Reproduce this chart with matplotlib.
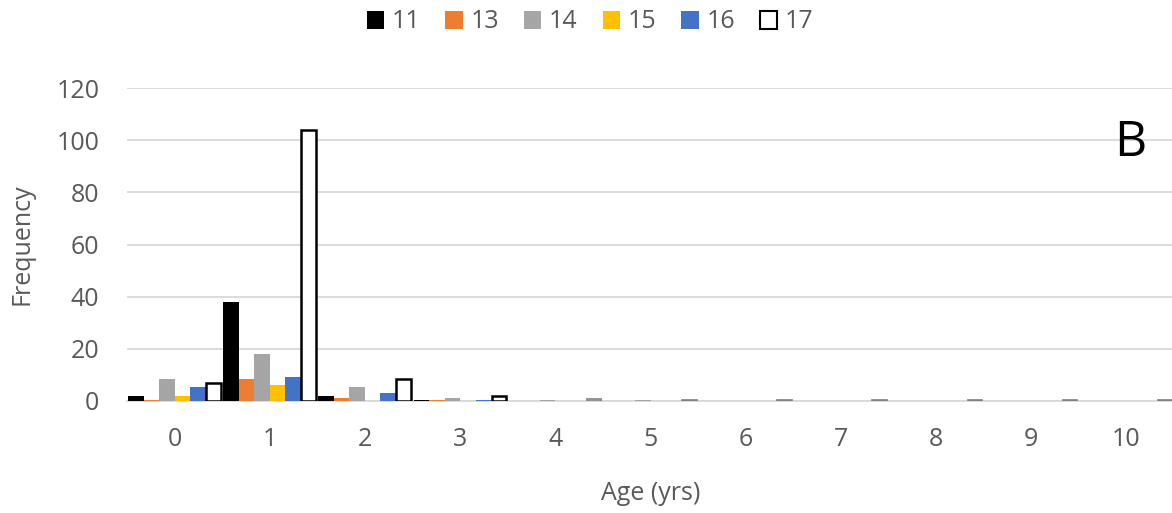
import matplotlib
matplotlib.use("Agg")
import matplotlib.pyplot as plt
import numpy as np
from matplotlib.patches import Patch

ages = ["0", "1", "2", "3", "4", "5", "6", "7", "8", "9", "10"]
series_names = ["11", "13", "14", "15", "16", "17"]
s11 = [2, 38, 2, 0.2, 0, 0, 0, 0, 0, 0, 0]
s13 = [0.2, 8.5, 1, 0.2, 0, 0, 0, 0, 0, 0, 0]
s14 = [8.5, 18, 5.2, 1.3, 0.3, 0.2, 0, 0, 0, 0, 0]
s15 = [2, 6, 0, 0, 0, 0, 0, 0, 0, 0, 0]
s16 = [5.5, 9.2, 3, 0.5, 0, 0, 0, 0, 0, 0, 0]
s17 = [7, 104, 8.5, 1.8, 0.6, 0.3, 0.3, 0.3, 0.3, 0.3, 0.3]
values = [s11, s13, s14, s15, s16, s17]

face = ["#000000", "#ED7D31", "#A5A5A5", "#FFC000", "#4472C4", "#FFFFFF"]
edge = ["#000000", "#ED7D31", "#A5A5A5", "#FFC000", "#4472C4", "#000000"]
lw = [0, 0, 0, 0, 0, 1.8]

plt.rcParams['font.family'] = ['Open Sans', 'DejaVu Sans']
fig = plt.figure(figsize=(11.72, 5.13), dpi=100)
ax = fig.add_axes([127/1172, (513-401)/513, (1174-127)/1172, (401-88)/513])

x = np.arange(len(ages))
n = len(values)
bw = 0.163
for i, (v, fc, ec, l, name) in enumerate(zip(values, face, edge, lw, series_names)):
    vv = np.array(v)
    if l:
        big = vv >= 1
        ax.bar(x[big] + (i - (n-1)/2) * bw, vv[big], width=bw*0.94, color=fc,
               edgecolor=ec, linewidth=l, zorder=3)
        ax.bar(x[~big] + (i - (n-1)/2) * bw, vv[~big], width=bw*0.94, color=fc,
               edgecolor='#7F7F7F', linewidth=1.2, zorder=3)
    else:
        ax.bar(x + (i - (n-1)/2) * bw, vv, width=bw, color=fc,
               edgecolor=ec, linewidth=l, zorder=3)

ax.set_xlim(-0.5, 10.5)
ax.set_ylim(0, 120)
ax.set_yticks(range(0, 121, 20))
ax.set_xticks(x)
ax.set_xticklabels(ages)
ax.grid(axis='y', color='#D9D9D9', linewidth=1.3, zorder=0)
for s in ['top', 'right', 'left']:
    ax.spines[s].set_visible(False)
ax.spines['bottom'].set_color('#D9D9D9')
ax.spines['bottom'].set_linewidth(1.3)
ax.tick_params(axis='both', length=0, labelsize=18, colors='#595959')
ax.tick_params(axis='y', pad=20)
ax.tick_params(axis='x', pad=19)
ax.set_ylabel("Frequency", fontsize=18, color='#595959', va='center')
ax.set_xlabel("Age (yrs)", fontsize=18, color='#595959', va='center')
ax.yaxis.set_label_coords((22 - 127) / 1047, 0.5)
ax.xaxis.set_label_coords(0.5, (401 - 494) / 313)

fig.text(1130/1172, 1 - 143/513, "B", fontsize=36,
         ha='center', va='center', color='black')

handles = [Patch(facecolor=fc, edgecolor=ec, linewidth=(1.5 if l else 0))
           for fc, ec, l in zip(face, edge, lw)]
fig.legend(handles, series_names, loc='center', bbox_to_anchor=(590/1172, 1 - 22/513),
           ncol=6, frameon=False, fontsize=18, handlelength=0.7, handleheight=0.7,
           handletextpad=0.3, columnspacing=1.0, labelcolor='#595959')

fig.savefig("out.png", dpi=100)
